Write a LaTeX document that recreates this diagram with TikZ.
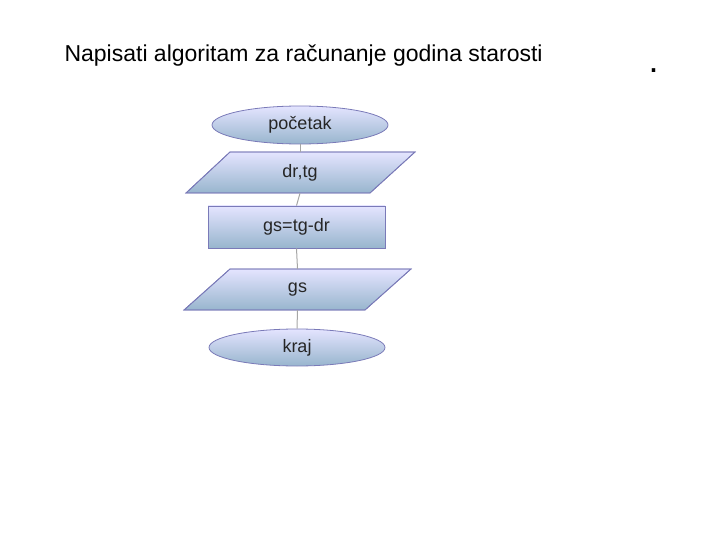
\documentclass[tikz,border=0pt]{standalone}
\usepackage{fontspec}
\setmainfont{Liberation Sans}
\usetikzlibrary{shapes.geometric}
\begin{document}
\begin{tikzpicture}[x=1pt,y=-1pt,
  fc/.style={top color=white!30!blue!15, bottom color=blue!45!cyan!35!gray!60, draw=blue!30!gray!80, line width=0.8pt},
  lbl/.style={font=\fontsize{18}{20}\selectfont, text=black!85},
  con/.style={draw=gray!70, line width=1pt}]
\useasboundingbox (0,0) rectangle (720,540);
\node[anchor=base west, font=\fontsize{23}{26}\selectfont] (title) at (61,62) {Napisati algoritam za računanje godina starosti};
\node[anchor=base west, font=\fontsize{36}{40}\selectfont] (dot) at (645,73) {.};
% start
\node[ellipse, fc, minimum width=176, minimum height=38, inner sep=0pt, lbl] (start) at (300,125) {početak};
% input
\shade[fc] (230,152) -- (415,152) -- (370,193) -- (186,193) -- cycle;
\draw[draw=blue!30!gray!80, line width=0.8pt] (230,152) -- (415,152) -- (370,193) -- (186,193) -- cycle;
\node[lbl, minimum height=41, minimum width=140, inner sep=0pt] (in) at (300,172.5) {dr,tg};
% process
\node[rectangle, fc, minimum width=177, minimum height=42, inner sep=0pt, lbl] (proc) at (296.5,227) {gs=tg-dr};
% output
\shade[fc] (230,269) -- (411,269) -- (365,310) -- (184,310) -- cycle;
\draw[draw=blue!30!gray!80, line width=0.8pt] (230,269) -- (411,269) -- (365,310) -- (184,310) -- cycle;
\node[lbl, minimum height=41, minimum width=140, inner sep=0pt] (out) at (297.5,289.5) {gs};
% end
\node[ellipse, fc, minimum width=176, minimum height=37, inner sep=0pt, lbl] (end) at (297,347.5) {kraj};
\draw[con] (start.south) -- (in.north);
\draw[con] (in.south) -- (proc.north);
\draw[con] (proc.south) -- (out.north);
\draw[con] (out.south) -- (end.north);
\end{tikzpicture}
\end{document}
